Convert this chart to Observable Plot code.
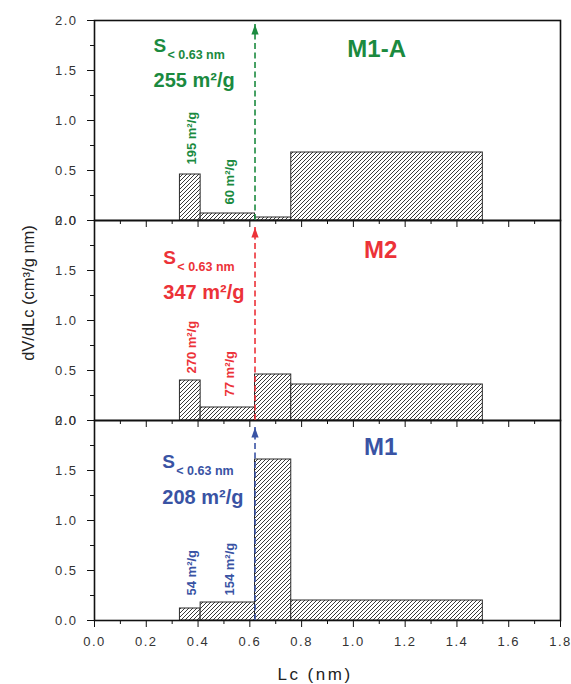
<!DOCTYPE html>
<html><head><meta charset="utf-8">
<script src="https://cdn.jsdelivr.net/npm/d3@7"></script>
<script src="https://cdn.jsdelivr.net/npm/@observablehq/plot@0.6"></script>
<style>body{margin:0;background:#fff}</style>
</head><body><div id="chart"></div>
<script>
// ---- data ----
const panels = ["M1-A", "M2", "M1"];
const panelColors = ["#1b8a3f", "#ec3238", "#3953a4"];
const binStart = [0.33, 0.41, 0.62, 0.76];
const binEnd = [0.41, 0.62, 0.76, 1.50];
const valuesM1A = [0.46, 0.07, 0.03, 0.68];
const valuesM2 = [0.40, 0.13, 0.46, 0.36];
const valuesM1 = [0.12, 0.18, 1.61, 0.20];
const cutoff = 0.62;
const cutoffLabel = "< 0.63 nm";
const arrowTip = [1.96, 1.93, 1.93];
const totalArea = [255, 347, 208];
const binAreaM1A = [195, 60];
const binAreaM2 = [270, 77];
const binAreaM1 = [54, 154];
const binLabelBase = [[0.56, 0.16], [0.47, 0.24], [0.25, 0.25]];
const sLabelX = [0.228, 0.266, 0.262];
const sLabelY = [1.745, 1.63, 1.583];
const titleX = [1.09, 1.105, 1.105];
const titleY = [1.71, 1.705, 1.735];
const yTicks = [0, 0.5, 1.0, 1.5, 2.0];
const yMinor = [0.25, 0.75, 1.25, 1.75];
const xTicks = [0, 0.2, 0.4, 0.6, 0.8, 1.0, 1.2, 1.4, 1.6, 1.8];
const xMinor = [0.1, 0.3, 0.5, 0.7, 0.9, 1.1, 1.3, 1.5, 1.7];

// ---- tables built from the arrays ----
const seriesValues = [valuesM1A, valuesM2, valuesM1];
const binAreas = [binAreaM1A, binAreaM2, binAreaM1];
const bars = [];
panels.forEach((p, i) => seriesValues[i].forEach((v, j) =>
  bars.push({panel: p, x1: binStart[j], x2: binEnd[j], v})));
const binLabels = [];
panels.forEach((p, i) => binAreas[i].forEach((a, j) =>
  binLabels.push({panel: p, x: (binStart[j] + binEnd[j]) / 2, y: binLabelBase[i][j],
    text: `${a} m²/g`, color: panelColors[i]})));
const arrows = panels.map((p, i) => ({panel: p, x: cutoff, tip: arrowTip[i], color: panelColors[i]}));
const sLabels = panels.map((p, i) => ({panel: p, x: sLabelX[i], y: sLabelY[i], total: totalArea[i], color: panelColors[i]}));
const titles = panels.map((p, i) => ({panel: p, x: titleX[i], y: titleY[i], color: panelColors[i]}));

const arrowHead = {draw(ctx) { ctx.moveTo(0, 0); ctx.lineTo(-3.6, 10); ctx.lineTo(3.6, 10); ctx.closePath(); }};

const plot = Plot.plot({
  width: 571, height: 684,
  marginTop: 19, marginBottom: 64, marginLeft: 94, marginRight: 11,
  x: {domain: [0, 1.8]},
  y: {domain: [0, 2]},
  fy: {domain: panels, padding: 0, axis: null},
  color: {type: "identity"},
  style: {fontFamily: "'Liberation Sans', Arial, sans-serif", background: "white", color: "#111"},
  marks: [
    Plot.rect(bars, {x1: "x1", x2: "x2", y1: 0, y2: "v", fy: "panel", fill: "url(#hatch)", stroke: "#2a2a2a", strokeWidth: 1}),
    Plot.frame({stroke: "#111", strokeWidth: 1.6}),
    Plot.axisY(yTicks, {tickSize: 7, tickPadding: 10, tickFormat: d => d.toFixed(1), fontSize: 13, label: null}),
    Plot.axisY(yMinor, {tickSize: 4, tickFormat: () => "", label: null}),
    Plot.axisX(xTicks, {tickSize: 7, tickFormat: () => "", facetAnchor: null, label: null}),
    Plot.axisX(xMinor, {tickSize: 4, tickFormat: () => "", facetAnchor: null, label: null}),
    Plot.axisX(xTicks, {tickSize: 0, tickPadding: 16, tickFormat: d => d.toFixed(1), fontSize: 13, label: null}),
    Plot.ruleX(arrows, {x: "x", y1: 0, y2: "tip", fy: "panel", stroke: "color", strokeWidth: 1.6, strokeDasharray: "6,3.5"}),
    Plot.dot(arrows, {x: "x", y: "tip", fy: "panel", fill: "color", stroke: "none", symbol: arrowHead}),
    Plot.text(binLabels, {x: "x", y: "y", fy: "panel", text: "text", rotate: -90, textAnchor: "start", dx: 2, fill: "color", fontSize: 13, fontWeight: "bold", ariaLabel: "ann"}),
    Plot.text(titles, {x: "x", y: "y", fy: "panel", text: "panel", fill: "color", fontSize: 24, fontWeight: "bold", ariaLabel: "ann"}),
    Plot.text(sLabels, {x: "x", y: "y", fy: "panel", text: () => "S", textAnchor: "start", fill: "color", fontSize: 19, fontWeight: "bold", ariaLabel: "ann"}),
    Plot.text(sLabels, {x: "x", y: "y", fy: "panel", text: () => cutoffLabel, textAnchor: "start", dx: 14, dy: 9, fill: "color", fontSize: 12.5, fontWeight: "bold", ariaLabel: "ann"}),
    Plot.text(sLabels, {x: "x", y: "y", fy: "panel", text: d => `${d.total} m²/g`, textAnchor: "start", dy: 35, fill: "color", fontSize: 20, fontWeight: "bold", ariaLabel: "ann"})
  ]
});

const svg = d3.select(plot);
svg.insert("defs", ":first-child").html(
  '<pattern id="hatch" patternUnits="userSpaceOnUse" width="4" height="4">' +
  '<rect width="4" height="4" fill="white"/>' +
  '<path d="M-1,1 L1,-1 M0,4 L4,0 M3,5 L5,3" stroke="#222" stroke-width="0.9"/></pattern>');
svg.selectAll('g[aria-label="ann"]').style("letter-spacing", "1px");
svg.selectAll('g[aria-label="y-axis tick label"], g[aria-label="x-axis tick label"]')
  .style("letter-spacing", "1.5px").attr("fill", "#333");
svg.append("text").attr("transform", "translate(34,293) rotate(-90)").attr("text-anchor", "middle")
  .attr("fill", "#222").style("font-size", "16.5px").text("dV/dLc (cm³/g nm)");
svg.append("text").attr("x", 315).attr("y", 680).attr("text-anchor", "middle")
  .attr("fill", "#222").style("font-size", "17px").style("letter-spacing", "2.5px").text("Lc (nm)");

document.getElementById("chart").append(plot);
</script>
</body></html>
